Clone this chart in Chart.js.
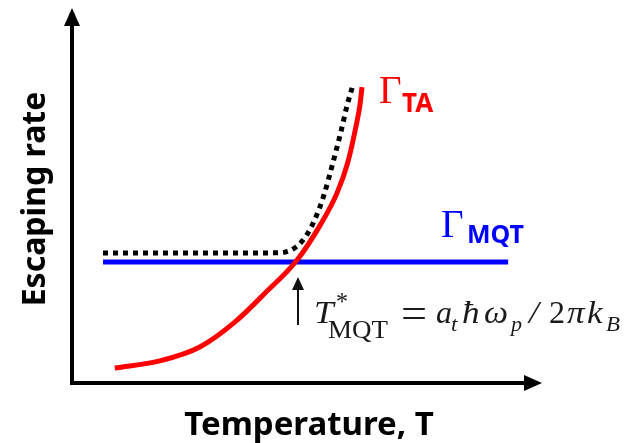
<!DOCTYPE html>
<html>
<head>
<meta charset="utf-8">
<script src="https://cdn.jsdelivr.net/npm/chart.js@4.4.1/dist/chart.umd.min.js"></script>
<style>
  html, body { margin: 0; padding: 0; background: #fff; }
  #wrap { width: 640px; height: 443px; }
</style>
</head>
<body>
<div id="wrap"><canvas id="chart" width="640" height="443"></canvas></div>
<script>
// Thermal activation rate (red)
const taTemp = [0.91, 1.87, 2.72, 3.47, 4.11, 4.79, 5.28, 5.64, 5.87, 6.04, 6.13, 6.17];
const taRate = [0.40, 0.59, 0.96, 1.63, 2.40, 3.28, 4.21, 5.07, 5.89, 6.83, 7.44, 7.89];

// Quantum tunnelling rate (blue), flat
const mqtTemp = [0.66, 9.28];
const mqtRate = [3.23, 3.23];

// Total rate (black dotted)
const totTemp = [0.66, 4.21, 4.53, 4.77, 4.98, 5.17, 5.36, 5.55, 5.72, 5.85, 5.96];
const totRate = [3.47, 3.47, 3.49, 3.63, 3.92, 4.37, 5.01, 5.87, 6.69, 7.39, 7.87];

const toPoints = (xs, ys) => xs.map((x, i) => ({ x: x, y: ys[i] }));

// draw one glyph group, nudged a little toward the wanted width
function glyph(ctx, text, font, x0, x1, base) {
    ctx.font = font;
    const w = ctx.measureText(text).width;
    let s = (x1 - x0) / w;
    s = Math.max(0.9, Math.min(1.1, s));
    ctx.save();
    ctx.translate(x0, base);
    ctx.scale(s, 1);
    ctx.fillText(text, 0, 0);
    ctx.restore();
}

// axes with arrow heads + all the text labels
const sketchPlugin = {
    id: 'sketch',
    afterDraw(chart) {
        const ctx = chart.ctx;
        const a = chart.chartArea;
        ctx.save();

        // axes
        ctx.strokeStyle = '#000';
        ctx.fillStyle = '#000';
        ctx.lineWidth = 4;
        ctx.beginPath();
        ctx.moveTo(a.left, a.top + 14);
        ctx.lineTo(a.left, a.bottom);
        ctx.lineTo(a.right - 14, a.bottom);
        ctx.stroke();
        ctx.beginPath();
        ctx.moveTo(a.left, a.top);
        ctx.lineTo(a.left - 8, a.top + 18);
        ctx.lineTo(a.left + 8, a.top + 18);
        ctx.closePath();
        ctx.fill();
        ctx.beginPath();
        ctx.moveTo(a.right, a.bottom);
        ctx.lineTo(a.right - 18, a.bottom - 8);
        ctx.lineTo(a.right - 18, a.bottom + 8);
        ctx.closePath();
        ctx.fill();

        // axis titles
        ctx.font = 'bold 32px "Noto Sans"';
        ctx.textAlign = 'center';
        ctx.textBaseline = 'alphabetic';
        ctx.save();
        ctx.translate(45, 199);
        ctx.rotate(-Math.PI / 2);
        ctx.fillText('Escaping rate', 0, 0);
        ctx.restore();
        ctx.font = 'bold 33px "Noto Sans"';
        ctx.fillText('Temperature, T', 309, 435);

        // curve labels
        ctx.textAlign = 'left';
        ctx.fillStyle = '#ff0000';
        ctx.font = '39px "Liberation Serif"';
        ctx.fillText('Γ', 379, 103);
        ctx.font = 'bold 26px "Noto Sans"';
        ctx.fillText('TA', 402, 112);
        ctx.fillStyle = '#0000ff';
        ctx.font = '39px "Liberation Serif"';
        ctx.fillText('Γ', 441, 237);
        ctx.font = 'bold 25px "Noto Sans"';
        ctx.fillText('MQT', 467, 243);

        // crossing marker arrow
        ctx.strokeStyle = '#111';
        ctx.fillStyle = '#111';
        ctx.lineWidth = 2;
        ctx.beginPath();
        ctx.moveTo(298, 325);
        ctx.lineTo(298, 288);
        ctx.stroke();
        ctx.beginPath();
        ctx.moveTo(298, 277);
        ctx.lineTo(292, 290);
        ctx.lineTo(304, 290);
        ctx.closePath();
        ctx.fill();

        // formula T*_MQT = a_t hbar omega_p / 2 pi k_B
        ctx.fillStyle = '#1a1a1a';
        const it = 'italic 32px "Liberation Serif"';
        const up = '32px "Liberation Serif"';
        const sub = 'italic 21px "Liberation Serif"';
        glyph(ctx, 'T', it, 314, 334, 323);
        glyph(ctx, '*', '26px "Liberation Serif"', 336, 348, 310);
        glyph(ctx, 'MQT', '25px "Liberation Serif"', 328, 388, 338);
        glyph(ctx, '=', '42px "Liberation Serif"', 401, 429, 327);
        glyph(ctx, 'a', it, 436, 452, 323);
        glyph(ctx, 't', sub, 451, 459, 331);
        glyph(ctx, 'ħ', it, 462, 480, 323);
        glyph(ctx, 'ω', it, 484, 508, 323);
        glyph(ctx, 'p', sub, 511, 522, 331);
        glyph(ctx, '/', it, 529, 545, 323);
        glyph(ctx, '2', up, 549, 565, 323);
        glyph(ctx, 'π', it, 567, 585, 323);
        glyph(ctx, 'k', it, 587, 603, 323);
        glyph(ctx, 'B', sub, 606, 620, 331);

        ctx.restore();
    }
};

new Chart(document.getElementById('chart'), {
    type: 'scatter',
    data: {
        datasets: [
            {
                label: 'MQT',
                data: toPoints(mqtTemp, mqtRate),
                showLine: true,
                borderColor: '#0000ff',
                borderWidth: 5,
                pointRadius: 0,
                order: 3
            },
            {
                label: 'TA',
                data: toPoints(taTemp, taRate),
                showLine: true,
                borderColor: '#ff0000',
                borderWidth: 5,
                pointRadius: 0,
                cubicInterpolationMode: 'monotone',
                order: 2
            },
            {
                label: 'total',
                data: toPoints(totTemp, totRate),
                showLine: true,
                borderColor: '#000',
                borderWidth: 5,
                borderDash: [5, 5],
                pointRadius: 0,
                cubicInterpolationMode: 'monotone',
                order: 1
            }
        ]
    },
    options: {
        responsive: false,
        animation: false,
        layout: { padding: { left: 72, top: 8, right: 98, bottom: 60 } },
        plugins: {
            legend: { display: false },
            tooltip: { enabled: false }
        },
        scales: {
            x: { type: 'linear', min: 0, max: 10, display: false },
            y: { type: 'linear', min: 0, max: 10, display: false }
        }
    },
    plugins: [sketchPlugin]
});
</script>
</body>
</html>
